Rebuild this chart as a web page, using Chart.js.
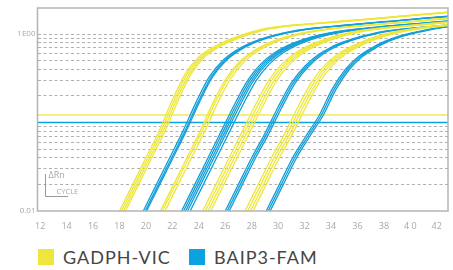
<!DOCTYPE html>
<html>
<head>
<meta charset="utf-8">
<script src="https://cdn.jsdelivr.net/npm/chart.js@4"></script>
<style>
  body { margin: 0; background: #fff; width: 453px; height: 270px; position: relative; overflow: hidden; }
  #wrap { position: absolute; left: 0; top: 0; width: 453px; height: 240px; }
  .leg { position: absolute; top: 249px; font-family: Lato, "Open Sans", sans-serif; font-size: 18px; letter-spacing: 1px; color: #454545; line-height: 17px; white-space: nowrap; }
  .sq { position: absolute; top: 249px; width: 16px; height: 16px; }
</style>
</head>
<body>
<div id="wrap"><canvas id="myChart"></canvas></div>
<div class="sq" style="left:38px;background:#EEE63A"></div>
<div class="leg" style="left:63px">GADPH-VIC</div>
<div class="sq" style="left:189px;background:#0BA3DF"></div>
<div class="leg" style="left:214px">BAIP3-FAM</div>
<script>
const yellow = "#EEE63A";
const blue = "#149FD8";

// x ticks (cycles)
const cycleTicks = [12, 14, 16, 18, 20, 22, 24, 26, 28, 30, 32, 34, 36, 38, 40, 42];
const cycleLabels = ["12", "14", "16", "18", "20", "22", "24", "26", "28", "30", "32", "34", "36", "38", "4 0", "42"];
// y grid (log)
const rnGrid = [0.01, 0.02, 0.03, 0.04, 0.05, 0.06, 0.07, 0.08, 0.09, 0.1,
  0.2, 0.3, 0.4, 0.5, 0.6, 0.7, 0.8, 0.9, 1];
const rnLabelValues = [0.01, 1];
const rnLabelTexts = ["0.01", "1E00"];

// thresholds
const thresholdGadph = 0.122;
const thresholdBaip3 = 0.1;

// cycles after each curve's start (0.01 crossing)
const offsets = [-1, 0, 1, 2, 3, 4, 5, 6, 7, 8, 9, 10, 11, 12, 13, 15, 18, 21, 25];

// GADPH-VIC dilution groups: start cycles of each replicate + curve values
const gadphStarts = [
  [18.0, 18.15, 18.3, 18.45],
  [21.1, 21.25, 21.45],
  [24.3, 24.5, 24.7, 24.9],
  [27.5, 27.7, 27.9, 28.1],
];
const gadph1 = [0.005, 0.01, 0.02, 0.04, 0.08, 0.18, 0.36, 0.55, 0.70, 0.83, 0.95, 1.06, 1.15, 1.21, 1.26, 1.33, 1.45, 1.58, 1.78];
const gadph2 = [0.005, 0.01, 0.02, 0.04, 0.08, 0.17, 0.32, 0.49, 0.64, 0.77, 0.88, 0.97, 1.05, 1.11, 1.16, 1.24, 1.35, 1.48, 1.62];
const gadph3 = [0.005, 0.01, 0.02, 0.04, 0.08, 0.16, 0.30, 0.46, 0.61, 0.74, 0.85, 0.95, 1.03, 1.10, 1.15, 1.23, 1.35, 1.47, 1.60];
const gadph4 = [0.005, 0.01, 0.02, 0.04, 0.075, 0.15, 0.28, 0.44, 0.59, 0.72, 0.84, 0.95, 1.04, 1.11, 1.17, 1.26, 1.38, 1.50, 1.62];
const gadphValues = [gadph1, gadph2, gadph3, gadph4];

// BAIP3-FAM dilution groups
const baip3Starts = [
  [19.8, 19.95, 20.05],
  [22.7, 22.85, 23.0, 23.15, 23.35],
  [26.0, 26.15, 26.3],
  [29.1, 29.25, 29.4],
];
const baip1 = [0.005, 0.01, 0.02, 0.04, 0.08, 0.17, 0.33, 0.50, 0.65, 0.78, 0.89, 0.98, 1.06, 1.12, 1.17, 1.25, 1.37, 1.50, 1.68];
const baip2 = [0.005, 0.01, 0.02, 0.04, 0.08, 0.16, 0.30, 0.46, 0.61, 0.74, 0.85, 0.94, 1.02, 1.08, 1.13, 1.21, 1.32, 1.44, 1.58];
const baip3 = [0.005, 0.01, 0.02, 0.04, 0.075, 0.15, 0.28, 0.43, 0.58, 0.71, 0.82, 0.92, 1.00, 1.07, 1.12, 1.20, 1.31, 1.42, 1.55];
const baip4 = [0.005, 0.01, 0.02, 0.04, 0.07, 0.12, 0.24, 0.40, 0.56, 0.70, 0.83, 0.94, 1.03, 1.11, 1.18, 1.28, 1.40, 1.50, 1.60];
const baipValues = [baip1, baip2, baip3, baip4];

const xMin = 11.8, xMax = 42.85;

function curve(start, values, color) {
  return {
    data: offsets.map((o, i) => ({ x: start + o, y: values[i] })),
    borderColor: color,
    borderWidth: 1.3,
    pointRadius: 0,
    fill: false,
    cubicInterpolationMode: "monotone",
  };
}

let datasets = [];
for (let g = 0; g < gadphStarts.length; g++) {
  for (let s of gadphStarts[g]) datasets.push(curve(s, gadphValues[g], yellow));
}
for (let g = 0; g < baip3Starts.length; g++) {
  for (let s of baip3Starts[g]) datasets.push(curve(s, baipValues[g], blue));
}
datasets.push({
  data: [{ x: xMin, y: thresholdGadph }, { x: xMax, y: thresholdGadph }],
  borderColor: "#F0EA5A", borderWidth: 1.5, pointRadius: 0,
});
datasets.push({
  data: [{ x: xMin, y: thresholdBaip3 }, { x: xMax, y: thresholdBaip3 }],
  borderColor: "#0BA3DF", borderWidth: 1.6, pointRadius: 0,
});

// frame + little axis sketch in the corner
const framePlugin = {
  id: "frame",
  afterDatasetsDraw(chart) {
    const { ctx, chartArea: a } = chart;
    ctx.save();
    ctx.strokeStyle = "#b4b4b4";
    ctx.lineWidth = 1.5;
    ctx.strokeRect(a.left, a.top, a.right - a.left, a.bottom - a.top);
    ctx.strokeStyle = "#999";
    ctx.lineWidth = 1;
    ctx.beginPath();
    ctx.moveTo(45.5, 174);
    ctx.lineTo(45.5, 196.5);
    ctx.lineTo(68, 196.5);
    ctx.stroke();
    ctx.fillStyle = "#a8a8a8";
    ctx.font = "9px 'Open Sans'";
    ctx.textBaseline = "middle";
    ctx.fillText("ΔRn", 48.5, 175.5);
    ctx.font = "7.5px 'Open Sans'";
    ctx.fillText("CYCLE", 56.5, 192);
    ctx.restore();
  },
};

const ctx = document.getElementById("myChart");
new Chart(ctx, {
  type: "line",
  data: { datasets: datasets },
  options: {
    responsive: true,
    maintainAspectRatio: false,
    animation: false,
    layout: { padding: { top: 8, right: 5, left: 0, bottom: 0 } },
    plugins: { legend: { display: false }, tooltip: { enabled: false } },
    scales: {
      x: {
        type: "linear",
        min: xMin,
        max: xMax,
        afterBuildTicks: (scale) => { scale.ticks = cycleTicks.map((v) => ({ value: v })); },
        afterFit: (scale) => { scale.height = 29; },
        grid: { display: false, drawTicks: false },
        border: { display: false },
        ticks: {
          padding: 10,
          maxRotation: 0,
          autoSkip: false,
          color: "#a8a8a8",
          font: { family: "'Open Sans'", size: 9 },
          callback: (v) => { const i = cycleTicks.indexOf(v); return i >= 0 ? cycleLabels[i] : ""; },
        },
      },
      y: {
        type: "logarithmic",
        min: 0.01,
        max: 1.97,
        afterBuildTicks: (scale) => { scale.ticks = rnGrid.map((v) => ({ value: v })); },
        afterFit: (scale) => { scale.width = 37.5; },
        grid: {
          drawTicks: false,
          lineWidth: 1,
          color: (c) => (c.tick && (c.tick.value === 0.01 || c.tick.value === 0.1) ? "rgba(0,0,0,0)" : "#b0b0b0"),
        },
        border: { display: false, dash: [3, 2.5] },
        ticks: {
          padding: 2,
          autoSkip: false,
          color: "#a8a8a8",
          font: { family: "'Open Sans'", size: 8 },
          callback: (v) => { const i = rnLabelValues.indexOf(v); return i >= 0 ? rnLabelTexts[i] : ""; },
        },
      },
    },
  },
  plugins: [framePlugin],
});
</script>
</body>
</html>
